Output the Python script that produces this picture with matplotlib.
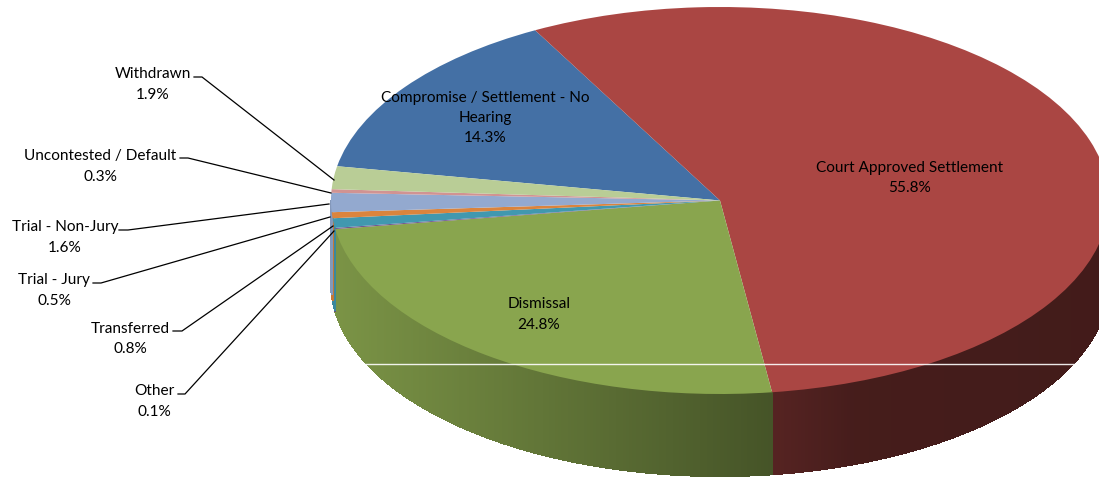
import numpy as np
import matplotlib
matplotlib.use("Agg")
import matplotlib.pyplot as plt
from matplotlib.collections import PolyCollection
from matplotlib.colors import to_rgb

# ---- data ----
categories = ["Compromise / Settlement - No\nHearing", "Court Approved Settlement", "Dismissal",
              "Other", "Transferred", "Trial - Jury", "Trial - Non-Jury",
              "Uncontested / Default", "Withdrawn"]
values = [14.3, 55.8, 24.8, 0.1, 0.8, 0.5, 1.6, 0.3, 1.9]
colors = ["#4470A5", "#AA4643", "#89A54E", "#71588F", "#4198AF",
          "#DB843D", "#93A9CF", "#D19392", "#B9CD96"]

W, H = 1099, 481
CX, CY, RX, RY = 720, 201.5, 389, 193.5
DEPTH = 82
START = 169.8
FONT = "Lato"
FS = 11.1

fig = plt.figure(figsize=(W / 100, H / 100), dpi=100, facecolor="white")
ax = fig.add_axes([(CX - RX) / W, (H - CY - RY) / H, 2 * RX / W, 2 * RY / H])

# top face
wedges, _ = ax.pie(values, colors=colors, startangle=START, counterclock=False,
                   radius=1.0, wedgeprops=dict(linewidth=0, clip_on=False, zorder=5))
ax.set_aspect("auto")
ax.set_xlim(-1, 1)
ax.set_ylim(-1, 1)

# side wall, front half only, shaded along x
depth = DEPTH / RY
shade_u = [-1.0, 0.13, 0.35, 1.0]
shade_f = [0.90, 0.51, 0.41, 0.39]
quads, fc = [], []
for w, col in zip(wedges, colors):
    a0, a1 = w.theta1 % 360, w.theta2 % 360
    if a1 <= a0:
        a1 += 360
    lo, hi = max(a0, 180), min(a1, 360)
    if hi <= lo:
        continue
    n = max(int((hi - lo) / 0.5), 1)
    th = np.radians(np.linspace(lo, hi, n + 1))
    base = np.array(to_rgb(col))
    for t0, t1 in zip(th[:-1], th[1:]):
        x0, y0, x1, y1 = np.cos(t0), np.sin(t0), np.cos(t1), np.sin(t1)
        quads.append([(x0, y0), (x1, y1), (x1, y1 - depth), (x0, y0 - depth)])
        fc.append(base * np.interp((x0 + x1) / 2, shade_u, shade_f))
ax.add_collection(PolyCollection(quads, facecolors=fc, edgecolors=fc, linewidths=0.8,
                                 antialiaseds=False, clip_on=False, zorder=2))

# overlay in image pixels: labels, leaders, the stray white rule
ov = fig.add_axes([0, 0, 1, 1], facecolor="none")
ov.set_xlim(0, W)
ov.set_ylim(H, 0)
ov.axis("off")
ov.plot([0, W], [365, 365], color="white", lw=1.0, alpha=0.9, zorder=6)

label_pos = [(485, 118), (910, 178), (539, 314.5), (154, 401.5), (130, 339),
             (54, 290.5), (65, 237.5), (100, 166.5), (153, 84.5)]
leaders = {
    3: [(178, 395), (185, 395), (334, 232)],
    4: [(173, 332), (182, 332), (333, 227)],
    5: [(93, 284), (101, 284), (330, 218)],
    6: [(119, 231), (128, 231), (329, 205)],
    7: [(180, 159), (188, 159), (331, 194)],
    8: [(194, 78), (202, 78), (334, 181)],
}
for i, (name, val) in enumerate(zip(categories, values)):
    ov.text(*label_pos[i], f"{name}\n{val:.1f}%", ha="center", va="center",
            fontsize=FS, family=FONT, color="black", linespacing=1.55, zorder=8)
    if i in leaders:
        xs, ys = zip(*leaders[i])
        ov.plot(xs, ys, color="black", lw=0.9, zorder=7, solid_joinstyle="miter")

fig.savefig("out.png", dpi=100, facecolor="white")
